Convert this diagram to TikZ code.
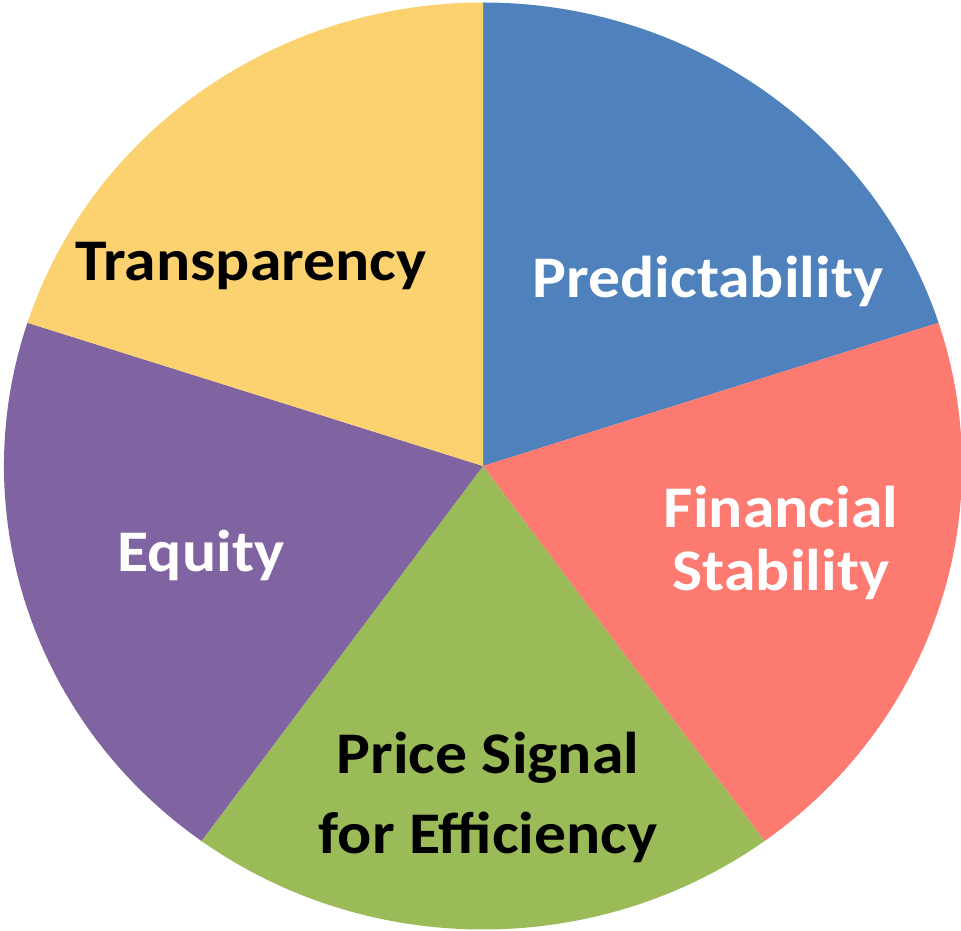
\documentclass[tikz,border=0pt]{standalone}
\usepackage{fontspec}
\setmainfont[FakeStretch=1.08]{Carlito}
\definecolor{predblue}{RGB}{79,129,189}
\definecolor{finred}{RGB}{252,122,112}
\definecolor{pricegreen}{RGB}{155,187,89}
\definecolor{equitypurple}{RGB}{128,100,162}
\definecolor{transpyellow}{RGB}{252,210,113}
\begin{document}
\begin{tikzpicture}[x=1pt,y=1pt,
  lbl/.style={font=\bfseries\fontsize{59}{63}\selectfont,align=center,inner sep=0pt,anchor=base}]
\useasboundingbox (0,0) rectangle (961,930);
\coordinate (O) at (483,464);
% Vẽ 5 phần của hình tròn
\foreach \a/\b/\c in {90/18/predblue,18/-54/finred,-54/-126/pricegreen,
  -126/-198/equitypurple,162/90/transpyellow}
\fill[\c] (O) -- ++(\a:479 and 463.5)
  arc[start angle=\a,end angle=\b,x radius=479,y radius=463.5] -- cycle;
% Ghi chữ lên từng phần
\node[lbl,white] (pred) at (708,632) {Predictability};
\node[lbl,white] (fin) at (781,339) {Financial\\Stability};
\node[lbl,font=\bfseries\fontsize{59}{80}\selectfont] (price) at (488,77) {Price Signal\\for Efficiency};
\node[lbl,white] (equity) at (201,359) {Equity};
\node[lbl] (transp) at (251,649) {Transparency};
\end{tikzpicture}
\end{document}
